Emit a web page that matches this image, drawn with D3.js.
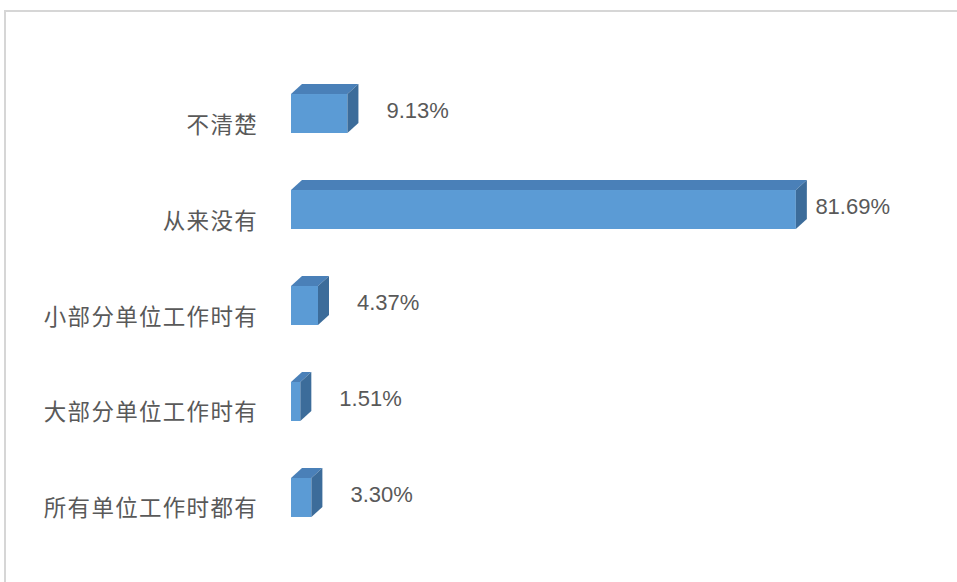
<!DOCTYPE html>
<html>
<head>
<meta charset="utf-8">
<script src="https://cdn.jsdelivr.net/npm/d3@7/dist/d3.min.js"></script>
<style>
  html, body { margin: 0; padding: 0; background: #ffffff; }
  svg { display: block; }
</style>
</head>
<body>
<svg id="chart" width="957" height="582"></svg>
<script>
// Survey answers (top to bottom) and their shares in percent
const categories = ["不清楚", "从来没有", "小部分单位工作时有", "大部分单位工作时有", "所有单位工作时都有"];
const shares = [9.13, 81.69, 4.37, 1.51, 3.30];
const shareLabels = ["9.13%", "81.69%", "4.37%", "1.51%", "3.30%"];

const svg = d3.select("#chart");
const W = 957, H = 582;

// chart frame
svg.append("rect")
  .attr("x", 5).attr("y", 11)
  .attr("width", W + 20).attr("height", H + 20)
  .attr("fill", "#ffffff")
  .attr("stroke", "#d6d6d6")
  .attr("stroke-width", 2);

const x = d3.scaleLinear().domain([0, 100]).range([291, 909]);
const y = d3.scaleBand().domain(categories).range([37, 574]).padding(0.594);

const plotRight = 890;
const dx = 11, dy = 10;   // 3D depth offset

const rows = categories.map((c, i) => ({ cat: c, v: shares[i], label: shareLabels[i] }));

const g = svg.append("g");

const bars = g.selectAll("g.bar").data(rows).join("g").attr("class", "bar");

// front face
bars.append("rect")
  .attr("x", x(0))
  .attr("y", d => y(d.cat))
  .attr("width", d => x(d.v) - x(0))
  .attr("height", y.bandwidth())
  .attr("fill", "#5b9bd5");

// top face
bars.append("path")
  .attr("d", d => {
    const x0 = x(0), x1 = x(d.v), t = y(d.cat);
    return `M${x0},${t}L${x0 + dx},${t - dy}L${x1 + dx},${t - dy}L${x1},${t}Z`;
  })
  .attr("fill", "#4a80b8");

// side face
bars.append("path")
  .attr("d", d => {
    const x1 = x(d.v), t = y(d.cat), b = t + y.bandwidth();
    return `M${x1},${t}L${x1 + dx},${t - dy}L${x1 + dx},${b - dy}L${x1},${b}Z`;
  })
  .attr("fill", "#3c6c9a");

// category labels
g.selectAll("text.cat").data(rows).join("text")
  .attr("class", "cat")
  .attr("x", 258)
  .attr("y", d => y(d.cat) + y.bandwidth() / 2 + 9)
  .attr("text-anchor", "end")
  .attr("dominant-baseline", "central")
  .attr("font-family", "'Noto Sans CJK SC', sans-serif")
  .attr("font-size", 22.5)
  .attr("letter-spacing", 1.3)
  .attr("fill", "#595959")
  .text(d => d.cat);

// value labels
g.selectAll("text.val").data(rows).join("text")
  .attr("class", "val")
  .attr("y", d => y(d.cat) + y.bandwidth() / 2 - 3)
  .attr("dominant-baseline", "central")
  .attr("font-family", "'Liberation Sans', Arial, sans-serif")
  .attr("font-size", 22)
  .attr("fill", "#595959")
  .text(d => d.label)
  .attr("x", function(d) {
    const w = this.getComputedTextLength();
    return Math.min(x(d.v) + dx + 28, plotRight - w);
  });
</script>
</body>
</html>
